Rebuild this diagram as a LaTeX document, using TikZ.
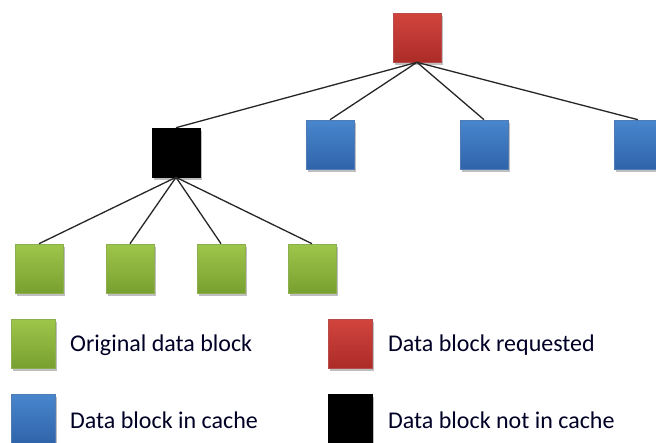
\documentclass[tikz,border=0pt]{standalone}
\usepackage{fontspec}
\setmainfont{Carlito}
\usetikzlibrary{shadows}
\definecolor{redT}{RGB}{210,68,62}
\definecolor{redB}{RGB}{172,44,40}
\definecolor{grnT}{RGB}{158,198,74}
\definecolor{grnB}{RGB}{120,160,48}
\definecolor{bluT}{RGB}{72,134,205}
\definecolor{bluB}{RGB}{48,100,170}
\begin{document}
\begin{tikzpicture}[x=1pt,y=1pt,
  block/.style={minimum width=48pt, minimum height=49pt, inner sep=0pt, line width=0.6pt,
    drop shadow={shadow xshift=1.5pt, shadow yshift=-2.5pt, opacity=0.25, fill=black}},
  legbox/.style={block, minimum width=44pt},
  reqblock/.style={top color=redT, bottom color=redB, draw=redB!85!white},
  origblock/.style={top color=grnT, bottom color=grnB, draw=grnB!85!white},
  cacheblock/.style={top color=bluT, bottom color=bluB, draw=bluB!85!white},
  missblock/.style={fill=black, draw=black},
  edge/.style={line width=1.3pt, black!85},
  legtext/.style={anchor=base west, inner sep=0pt, font=\fontsize{24}{28}\selectfont, text=black!85!blue}
]
\useasboundingbox (0,0) rectangle (656,-442);
\fill[white] (0,0) rectangle (656,-442);

% tree
\node[block, reqblock]   (root) at (417,-37.5) {};
\node[block, missblock]  (m1)   at (176,-152.5) {};
\node[block, cacheblock] (b1)   at (330,-144.5) {};
\node[block, cacheblock] (b2)   at (484,-144.5) {};
\node[block, cacheblock] (b3)   at (638,-144.5) {};
\node[block, origblock]  (g1)   at (39,-268.5) {};
\node[block, origblock]  (g2)   at (130,-268.5) {};
\node[block, origblock]  (g3)   at (221,-268.5) {};
\node[block, origblock]  (g4)   at (312,-268.5) {};

\foreach \c in {m1,b1,b2,b3} \draw[edge] (root.south) -- (\c.north);
\foreach \c in {g1,g2,g3,g4} \draw[edge] (m1.south) -- (\c.north);

% legend
\node[legbox, origblock]  (lg) at (33,-343.5) {};
\node[legbox, reqblock]   (lr) at (350,-343.5) {};
\node[legbox, cacheblock] (lb) at (33,-418.5) {};
\node[legbox, missblock]  (lk) at (350,-418.5) {};
\node[legtext] (tg) at (70,-351) {Original data block};
\node[legtext] (tr) at (388,-351) {Data block requested};
\node[legtext] (tb) at (70,-428) {Data block in cache};
\node[legtext] (tk) at (388,-428) {Data block not in cache};
\end{tikzpicture}
\end{document}
